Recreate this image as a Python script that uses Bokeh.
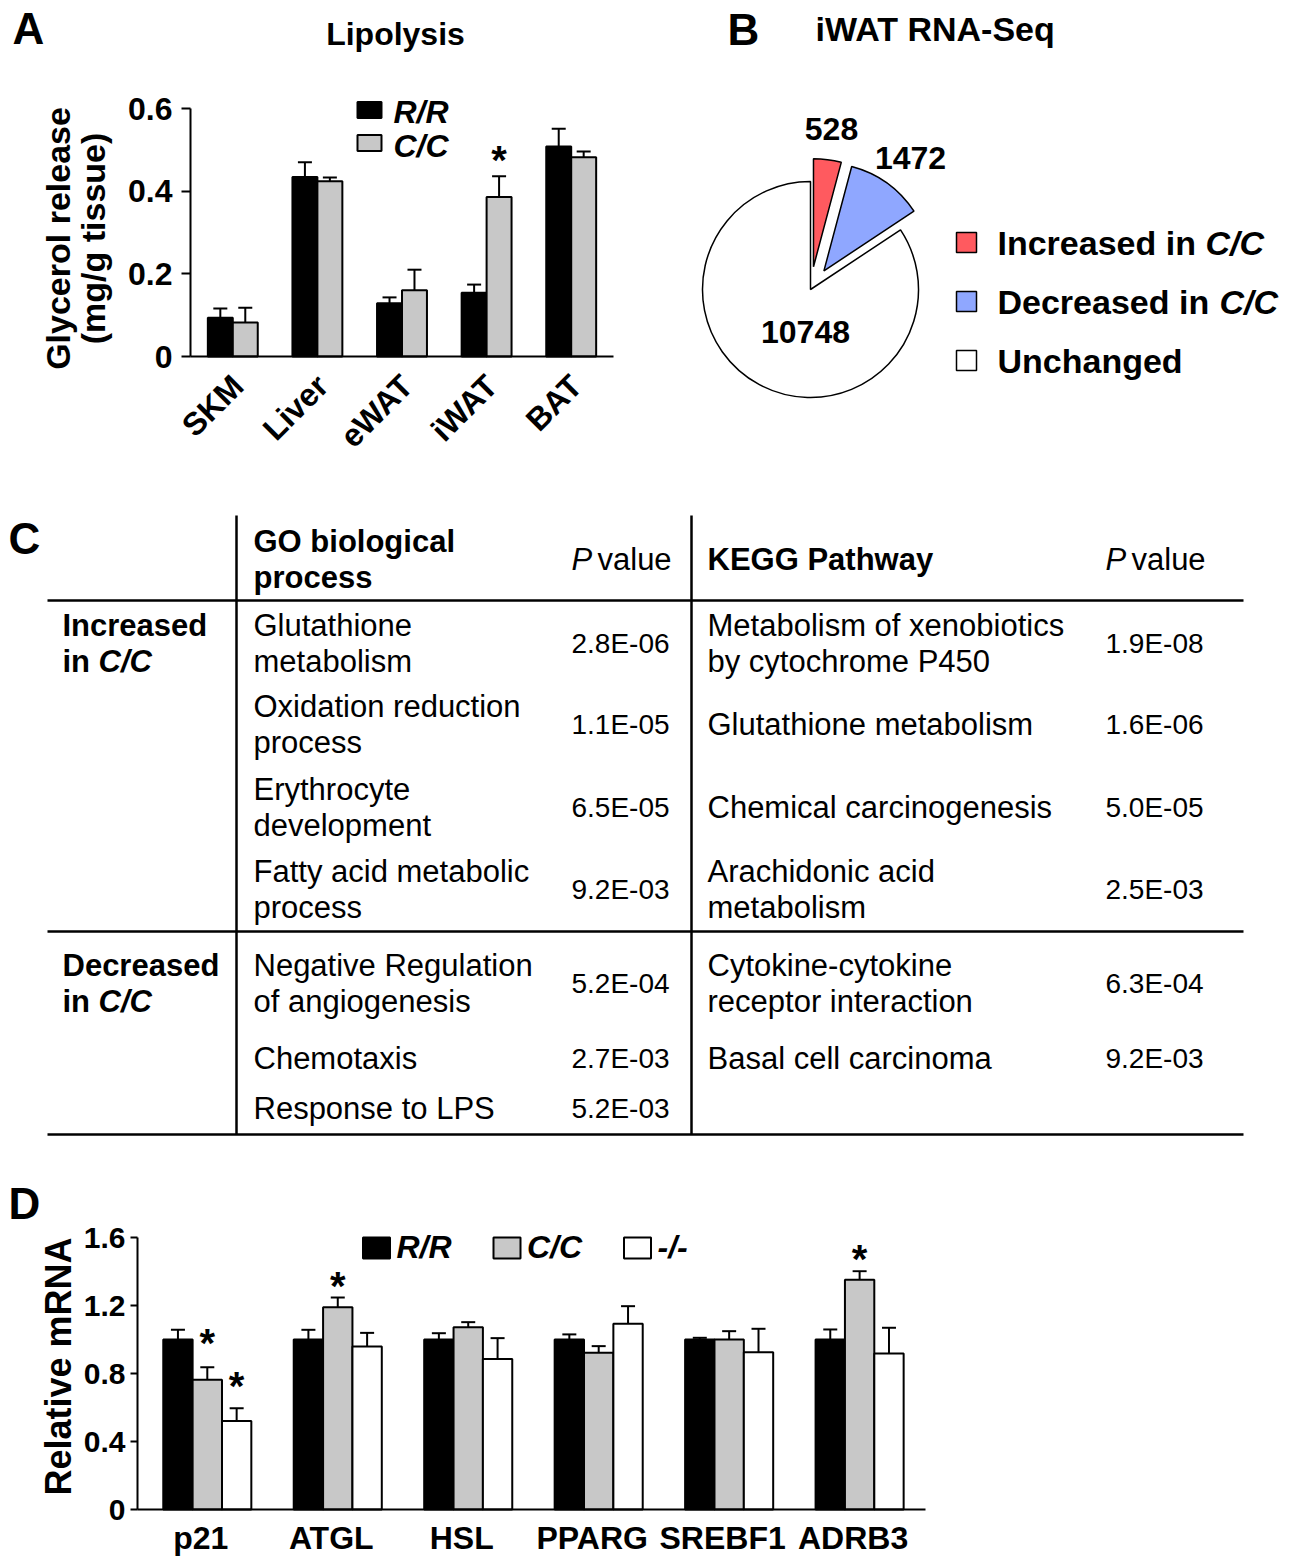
import numpy as np
from math import pi
from bokeh.plotting import figure
from bokeh.models import (ColumnDataSource, Range1d, FixedTicker, CustomJSTickFormatter,
                          LinearAxis, Whisker, TeeHead)
from bokeh.layouts import column, row
from bokeh.core.properties import value
from bokeh.embed import file_html
from bokeh.resources import INLINE

FONT = "Liberation Sans"

# ---------------- Panel A data ----------------
tissues = ["SKM", "Liver", "eWAT", "iWAT", "BAT"]
rr_glycerol = [0.094, 0.434, 0.129, 0.154, 0.508]
rr_glycerol_up = [0.116, 0.470, 0.143, 0.174, 0.551]
cc_glycerol = [0.082, 0.424, 0.160, 0.386, 0.482]
cc_glycerol_up = [0.118, 0.433, 0.210, 0.436, 0.496]
a_star_tissue = ["iWAT"]
a_star_y = [0.498]
a_ticks = [0, 0.2, 0.4, 0.6]
a_groups = ["R/R", "C/C"]

# ---------------- Panel B data ----------------
pie_labels = ["Increased in", "Decreased in", "Unchanged"]
pie_suffix = ["C/C", "C/C"]
pie_counts = [528, 1472, 10748]
pie_colors = ["#FF5A5F", "#8FA7FF", "#FFFFFF"]

# ---------------- Panel C data ----------------
section_labels = ["Increased", "Decreased"]
section_first_row = [0, 4]
go_terms = ["Glutathione\nmetabolism", "Oxidation reduction\nprocess", "Erythrocyte\ndevelopment",
            "Fatty acid metabolic\nprocess", "Negative Regulation\nof angiogenesis", "Chemotaxis",
            "Response to LPS"]
go_p = ["2.8E-06", "1.1E-05", "6.5E-05", "9.2E-03", "5.2E-04", "2.7E-03", "5.2E-03"]
kegg_terms = ["Metabolism of xenobiotics\nby cytochrome P450", "Glutathione metabolism",
              "Chemical carcinogenesis", "Arachidonic acid\nmetabolism",
              "Cytokine-cytokine\nreceptor interaction", "Basal cell carcinoma"]
kegg_p = ["1.9E-08", "1.6E-06", "5.0E-05", "2.5E-03", "6.3E-04", "9.2E-03"]

# ---------------- Panel D data ----------------
genes = ["p21", "ATGL", "HSL", "PPARG", "SREBF1", "ADRB3"]
rr_mrna = [1.0, 1.0, 1.0, 1.0, 1.0, 1.0]
rr_mrna_up = [1.057, 1.057, 1.037, 1.030, 1.010, 1.059]
cc_mrna = [0.763, 1.19, 1.072, 0.922, 1.0, 1.351]
cc_mrna_up = [0.837, 1.247, 1.102, 0.961, 1.049, 1.402]
ko_mrna = [0.52, 0.959, 0.886, 1.092, 0.925, 0.918]
ko_mrna_up = [0.596, 1.039, 1.008, 1.196, 1.063, 1.069]
d_star_gene = ["p21", "p21", "ATGL", "ADRB3"]
d_star_group = ["C/C", "-/-", "C/C", "C/C"]
d_star_y = [1.035, 0.782, 1.365, 1.524]
d_ticks = [0, 0.4, 0.8, 1.2, 1.6]
d_groups = ["R/R", "C/C", "-/-"]

GRAY = "#C8C8C8"
fmt_code = "return tick == 0 ? '0' : tick.toFixed(1);"


def base_fig(**kw):
    p = figure(output_backend="svg", toolbar_location=None, title=None, min_border=0,
               x_axis_location=None, y_axis_location=None, **kw)
    p.outline_line_color = None
    p.background_fill_color = "white"
    p.border_fill_color = "white"
    p.grid.visible = False
    return p


def style_axis(a, fsize, stand, tick_out, ticks_visible=True):
    a.axis_line_width = 2
    a.axis_line_color = "black"
    a.major_tick_line_width = 2
    a.major_tick_line_color = "black" if ticks_visible else None
    a.major_tick_out = tick_out
    a.major_tick_in = 0
    a.minor_tick_line_color = None
    a.major_label_text_font = FONT
    a.major_label_text_font_style = "bold"
    a.major_label_text_font_size = fsize
    a.major_label_text_color = "black"
    a.major_label_standoff = stand


def txt(p, xs, ys, texts, size, style="bold", align="left", angle=0.0, baseline="middle"):
    p.text(x=list(xs), y=list(ys), text=list(texts), text_font=value(FONT), text_font_size=size,
           text_font_style=style, text_align=align, text_baseline=baseline, angle=angle,
           text_color="black")


# ================= Panel A =================
A_W, A_H = 650, 470
A_L, A_R, A_T, A_B = 190, 613, 108, 356


def ax(px):
    return 0.5 + (px - A_L) * 5.0 / (A_R - A_L)


def ay(py):
    return (A_B - py) * 0.6 / (A_B - A_T)


pA = base_fig(width=A_W, height=A_H, x_range=Range1d(ax(0), ax(A_W)), y_range=Range1d(ay(A_H), ay(0)))
xa = np.arange(1, len(tissues) + 1)
wA = 0.295
srcA = ColumnDataSource(dict(x_rr=xa - wA / 2, x_cc=xa + wA / 2, rr=rr_glycerol, rr_up=rr_glycerol_up,
                             cc=cc_glycerol, cc_up=cc_glycerol_up))
pA.vbar(x="x_rr", top="rr", bottom=0, width=wA, source=srcA, fill_color="black",
        line_color="black", line_width=2)
pA.vbar(x="x_cc", top="cc", bottom=0, width=wA, source=srcA, fill_color=GRAY,
        line_color="black", line_width=2)
for b, lo, hi in (("x_rr", "rr", "rr_up"), ("x_cc", "cc", "cc_up")):
    pA.add_layout(Whisker(source=srcA, base=b, lower=lo, upper=hi, line_width=2, line_color="black",
                          upper_head=TeeHead(size=14, line_width=2, line_color="black"), lower_head=None))
pA.text(x=[tissues.index(t) + 1 + wA / 2 for t in a_star_tissue], y=a_star_y, text=["*"] * len(a_star_y),
        text_font=value(FONT), text_font_size="40px", text_font_style="bold", text_align="center",
        text_baseline="middle", y_offset=9)

yA = LinearAxis(fixed_location=ax(A_L), bounds=(0, 0.6), ticker=FixedTicker(ticks=a_ticks),
                formatter=CustomJSTickFormatter(code=fmt_code))
style_axis(yA, "32px", 9, 9)
pA.add_layout(yA, "left")
xA = LinearAxis(fixed_location=0, bounds=(ax(A_L), ax(A_R)), ticker=FixedTicker(ticks=list(xa + 0.06)),
                formatter=CustomJSTickFormatter(args=dict(labels=tissues),
                                                code="return labels[Math.round(tick) - 1];"),
                major_label_orientation=pi / 4)
style_axis(xA, "32px", 24, 0, ticks_visible=False)
pA.add_layout(xA, "below")

# legend A (drawn as glyphs)
legA_y = [ay(109.5 + 33 * i) for i in range(len(a_groups))]
pA.rect(x=[ax(369)] * 2, y=legA_y, width=24, height=16, width_units="screen", height_units="screen",
        fill_color=["black", GRAY], line_color="black", line_width=2)
txt(pA, [ax(393)] * 2, [ay(111.5 + 34 * i) for i in range(2)], a_groups, "32px", "bold italic")
txt(pA, [ax(12)], [ay(28)], ["A"], "44px")
txt(pA, [ax(395)], [ay(33)], ["Lipolysis"], "32px", align="center")
txt(pA, [ax(57), ax(92)], [ay(238), ay(238)], ["Glycerol release", "(mg/g tissue)"], "34px",
    align="center", angle=pi / 2)

# ================= Panel B =================
pB = base_fig(width=638, height=470, x_range=Range1d(650, 1288), y_range=Range1d(-470, 0))
counts = np.array(pie_counts, dtype=float)
cum = np.concatenate([[0.0], np.cumsum(counts / counts.sum())])
end_a = pi / 2 - 2 * pi * cum[:-1]
start_a = pi / 2 - 2 * pi * cum[1:]
mid_a = (start_a + end_a) / 2
explode = np.array([23.0, 23.0, 0.0])
PIE_CX, PIE_CY, PIE_R = 810, -289, 108
pB.wedge(x=PIE_CX + explode * np.cos(mid_a), y=PIE_CY + explode * np.sin(mid_a), radius=PIE_R,
         start_angle=start_a, end_angle=end_a, fill_color=pie_colors, line_color="black", line_width=1.5)
count_pos = [(831, 128), (910, 157), (805, 331)]
txt(pB, [c[0] for c in count_pos], [-c[1] for c in count_pos], [str(c) for c in pie_counts], "32px",
    align="center")
leg_y = [-(242 + 59 * i) for i in range(len(pie_labels))]
pB.rect(x=[966] * 3, y=leg_y, width=20, height=20, fill_color=pie_colors, line_color="black", line_width=1.5)
txt(pB, [997] * 3, leg_y, pie_labels, "34px")
txt(pB, [1205, 1219], leg_y[:2], pie_suffix, "34px", "bold italic")
txt(pB, [727], [-29], ["B"], "44px")
txt(pB, [815], [-28], ["iWAT RNA-Seq"], "34px")

# ================= Panel C (table) =================
pC = base_fig(width=1288, height=673, x_range=Range1d(0, 1288), y_range=Range1d(1143, 470))
row_center = [643, 724, 807, 889, 983, 1058, 1108]
LG = 35.5
hlines = [600, 931, 1134]
pC.segment(x0=[47] * 3, x1=[1243] * 3, y0=hlines, y1=hlines, line_color="black", line_width=2.5)
pC.segment(x0=[236, 691], x1=[236, 691], y0=[515, 515], y1=[1134, 1134], line_color="black", line_width=2.5)


def split_lines(terms, centers):
    ys, ts = [], []
    for t, c in zip(terms, centers):
        parts = t.split("\n")
        n = len(parts)
        for k, s in enumerate(parts):
            ys.append(c - (n - 1) / 2 * LG + k * LG)
            ts.append(s)
    return ys, ts


ys, ts = split_lines(go_terms, row_center)
txt(pC, [253] * len(ts), ys, ts, "31px", "normal")
txt(pC, [571] * len(go_p), row_center[:len(go_p)], go_p, "28px", "normal")
ys, ts = split_lines(kegg_terms, row_center[:len(kegg_terms)])
txt(pC, [707] * len(ts), ys, ts, "31px", "normal")
txt(pC, [1105] * len(kegg_p), row_center[:len(kegg_p)], kegg_p, "28px", "normal")
sec_y = [row_center[i] - LG / 2 for i in section_first_row]
txt(pC, [62] * 2, sec_y, section_labels, "31px")
txt(pC, [62] * 2, [y + LG for y in sec_y], ["in"] * 2, "31px")
txt(pC, [98] * 2, [y + LG for y in sec_y], ["C/C"] * 2, "31px", "bold italic")
ys, ts = split_lines(["GO biological\nprocess"], [559])
txt(pC, [253] * 2, ys, ts, "31px")
txt(pC, [707], [559], ["KEGG Pathway"], "31px")
txt(pC, [571, 1105], [559, 559], ["P", "P"], "31px", "italic")
txt(pC, [597, 1131], [559, 559], ["value", "value"], "31px", "normal")
txt(pC, [8], [538], ["C"], "44px")

# ================= Panel D =================
D_W, D_H, D_Y0 = 1288, 417, 1143
D_L, D_R, D_T, D_B = 137, 925, 1237, 1509
DX0, DX1 = 0.465, 6.505


def dx(px):
    return DX0 + (px - D_L) * (DX1 - DX0) / (D_R - D_L)


def dy(py):
    return (D_B - py) * 1.6 / (D_B - D_T)


pD = base_fig(width=D_W, height=D_H, x_range=Range1d(dx(0), dx(D_W)), y_range=Range1d(dy(D_Y0 + D_H), dy(D_Y0)))
xd = np.arange(1, len(genes) + 1)
wD = 0.225
srcD = ColumnDataSource(dict(x_rr=xd - wD, x_cc=xd * 1.0, x_ko=xd + wD,
                             rr=rr_mrna, rr_up=rr_mrna_up, cc=cc_mrna, cc_up=cc_mrna_up,
                             ko=ko_mrna, ko_up=ko_mrna_up))
d_colors = ["black", GRAY, "white"]
for xcol, top, col in zip(("x_rr", "x_cc", "x_ko"), ("rr", "cc", "ko"), d_colors):
    pD.vbar(x=xcol, top=top, bottom=0, width=wD, source=srcD, fill_color=col,
            line_color="black", line_width=2)
for b, lo, hi in (("x_rr", "rr", "rr_up"), ("x_cc", "cc", "cc_up"), ("x_ko", "ko", "ko_up")):
    pD.add_layout(Whisker(source=srcD, base=b, lower=lo, upper=hi, line_width=2, line_color="black",
                          upper_head=TeeHead(size=14, line_width=2, line_color="black"), lower_head=None))
grp_off = {"R/R": -wD, "C/C": 0.0, "-/-": wD}
pD.text(x=[genes.index(g) + 1 + grp_off[s] for g, s in zip(d_star_gene, d_star_group)], y=d_star_y,
        text=["*"] * len(d_star_y), text_font=value(FONT), text_font_size="40px", text_font_style="bold",
        text_align="center", text_baseline="middle", y_offset=9)

yD = LinearAxis(fixed_location=dx(D_L), bounds=(0, 1.6), ticker=FixedTicker(ticks=d_ticks),
                formatter=CustomJSTickFormatter(code=fmt_code))
style_axis(yD, "30px", 5, 7)
pD.add_layout(yD, "left")
xD = LinearAxis(fixed_location=0, bounds=(dx(D_L), dx(D_R)), ticker=FixedTicker(ticks=list(xd - 0.05)),
                formatter=CustomJSTickFormatter(args=dict(labels=genes),
                                                code="return labels[Math.round(tick) - 1];"))
style_axis(xD, "32px", 10, 0, ticks_visible=False)
pD.add_layout(xD, "below")

legD_x = [376 + 130.5 * i for i in range(len(d_groups))]
pD.rect(x=[dx(v) for v in legD_x], y=[dy(1247.5)] * 3, width=27, height=21, width_units="screen",
        height_units="screen", fill_color=d_colors, line_color="black", line_width=2)
txt(pD, [dx(v + 20) for v in legD_x], [dy(1246)] * 3, d_groups, "32px", "bold italic")
txt(pD, [dx(8)], [dy(1203)], ["D"], "44px")
txt(pD, [dx(58)], [dy(1366)], ["Relative mRNA"], "36px", align="center", angle=pi / 2)

layout = column(row(pA, pB), pC, pD)
open("out.html", "w").write(file_html(layout, INLINE))
